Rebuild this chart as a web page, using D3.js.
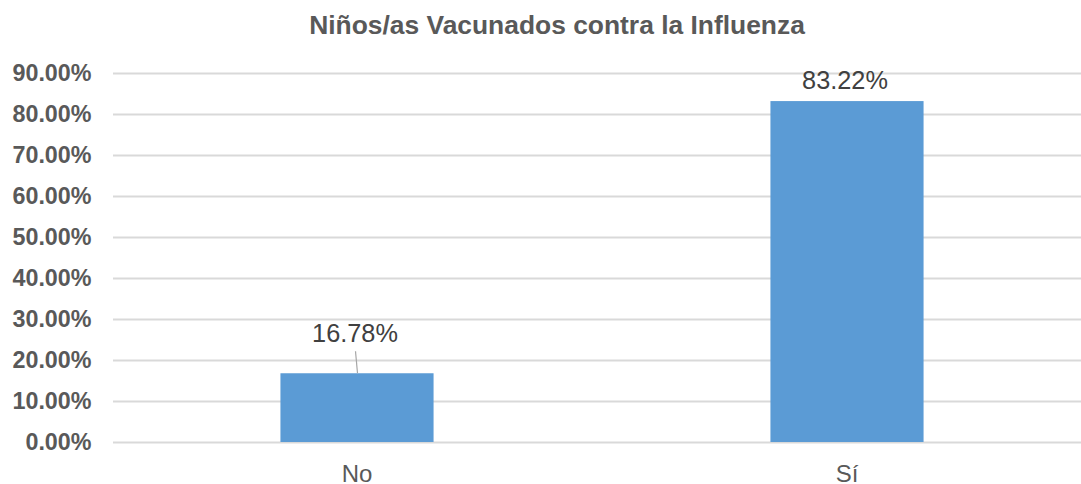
<!DOCTYPE html>
<html>
<head>
<meta charset="utf-8">
<script src="https://cdn.jsdelivr.net/npm/d3@7"></script>
<style>
  body { margin: 0; background: #fff; }
  svg { display: block; font-family: "Liberation Sans", Arial, sans-serif; }
</style>
</head>
<body>
<div></div>
<script>
const categories = ["No", "Sí"];
const values = [0.1678, 0.8322];
const valueLabels = ["16.78%", "83.22%"];
const yTicks = [0, 0.1, 0.2, 0.3, 0.4, 0.5, 0.6, 0.7, 0.8, 0.9];
const title = "Niños/as Vacunados contra la Influenza";

const width = 1081, height = 484;
const plot = { left: 112, right: 1092, top: 73.3, bottom: 442 };

const svg = d3.select("div").append("svg").attr("width", width).attr("height", height);

const x = d3.scaleBand().domain(categories).range([plot.left, plot.right]).padding(0);
const y = d3.scaleLinear().domain([0, 0.9]).range([plot.bottom, plot.top]);
const barW = x.bandwidth() * 0.3125;

svg.append("text")
  .attr("x", 557).attr("y", 34)
  .attr("text-anchor", "middle")
  .attr("font-size", 26.4).attr("font-weight", "bold")
  .attr("fill", "#595959")
  .text(title);

// gridlines
svg.append("g")
  .selectAll("line")
  .data(yTicks)
  .enter()
  .append("line")
  .attr("x1", plot.left + 1).attr("x2", width)
  .attr("y1", d => Math.round(y(d)) + 0.5)
  .attr("y2", d => Math.round(y(d)) + 0.5)
  .attr("stroke", "#d9d9d9").attr("stroke-width", 2);

// y axis labels
const yAxis = d3.axisLeft(y).tickValues(yTicks).tickFormat(d => (d * 100).toFixed(2) + "%").tickSize(0).tickPadding(0);
const yg = svg.append("g").attr("transform", `translate(91.5,0)`).call(yAxis);
yg.select(".domain").remove();
yg.selectAll("text")
  .attr("font-family", "Liberation Sans, Arial, sans-serif")
  .attr("font-size", 23.3).attr("font-weight", "bold")
  .attr("fill", "#595959");

// bars
svg.append("g")
  .selectAll("rect")
  .data(categories)
  .enter()
  .append("rect")
  .attr("x", d => x(d) + x.bandwidth() / 2 - barW / 2)
  .attr("y", (d, i) => y(values[i]))
  .attr("width", barW)
  .attr("height", (d, i) => y(0) - y(values[i]))
  .attr("fill", "#5b9bd5");

// data labels; the short bar's label is lifted with a leader line
const labelLift = { "No": 31, "Sí": 12.5 };
categories.forEach((c, i) => {
  const cx = x(c) + x.bandwidth() / 2;
  const top = y(values[i]);
  if (labelLift[c] > 20) {
    svg.append("line")
      .attr("x1", cx - 1.5).attr("y1", top - 22)
      .attr("x2", cx + 0.5).attr("y2", top)
      .attr("stroke", "#a6a6a6").attr("stroke-width", 1.2);
  }
  svg.append("text")
    .attr("x", cx - 2).attr("y", top - labelLift[c])
    .attr("text-anchor", "middle")
    .attr("font-size", 25.3).attr("fill", "#404040")
    .text(valueLabels[i]);
});

// x axis labels
const xAxis = d3.axisBottom(x).tickSize(0).tickPadding(0);
const xg = svg.append("g").attr("transform", `translate(0,${plot.bottom})`).call(xAxis);
xg.select(".domain").remove();
xg.selectAll("text")
  .attr("dy", null).attr("y", 39.5)
  .attr("font-family", "Liberation Sans, Arial, sans-serif")
  .attr("font-size", 24).attr("fill", "#595959");
</script>
</body>
</html>
